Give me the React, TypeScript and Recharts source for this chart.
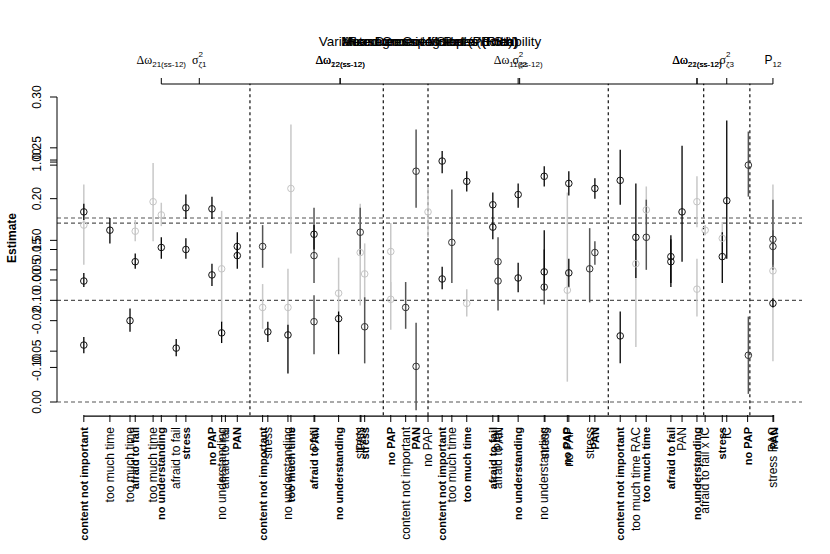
import React from "react"
import {
  ComposedChart, Scatter, ErrorBar, XAxis, YAxis, ReferenceLine,
} from "recharts"

const FONT = "'Liberation Sans', Arial, Helvetica, sans-serif"
const SERIF = "'Liberation Serif', 'DejaVu Serif', serif"

// estimates with interval bounds, split by shade (position on a 0-100 panel scale)
const blackX = [3.6, 3.6, 3.6, 7.1, 9.8, 10.5, 14.0, 16.0, 17.3, 17.3, 20.8, 20.8, 22.1, 24.2, 24.2, 28.3, 31.0, 34.5, 37.8, 51.7, 51.7, 55.0, 58.5, 58.5, 61.9, 61.9, 65.4, 65.4, 68.7, 68.7, 72.2, 75.6, 75.6, 77.7, 82.4, 82.4, 83.9, 89.3, 89.9, 96.1]
const blackEst = [0.187, 0.119, 0.056, 0.169, 0.080, 0.138, 0.152, 0.053, 0.191, 0.150, 0.190, 0.125, 0.068, 0.153, 0.144, 0.069, 0.066, 0.165, 0.082, 0.237, 0.121, 0.217, 0.194, 0.172, 0.204, 0.122, 0.222, 0.128, 0.215, 0.127, 0.210, 0.218, 0.065, 0.162, 0.143, 0.138, 0.187, 0.143, 0.198, 0.097]
const blackLo = [0.179, 0.113, 0.048, 0.156, 0.069, 0.131, 0.141, 0.045, 0.180, 0.141, 0.180, 0.114, 0.058, 0.142, 0.131, 0.059, 0.028, 0.150, 0.047, 0.225, 0.111, 0.207, 0.183, 0.160, 0.191, 0.108, 0.212, 0.110, 0.203, 0.113, 0.200, 0.194, 0.038, 0.122, 0.113, 0.117, 0.138, 0.117, 0.141, 0.093]
const blackHi = [0.195, 0.127, 0.064, 0.181, 0.092, 0.146, 0.162, 0.062, 0.204, 0.161, 0.202, 0.136, 0.079, 0.167, 0.154, 0.079, 0.076, 0.174, 0.089, 0.247, 0.133, 0.227, 0.206, 0.183, 0.215, 0.137, 0.232, 0.169, 0.227, 0.141, 0.220, 0.248, 0.089, 0.215, 0.164, 0.160, 0.252, 0.167, 0.277, 0.102]

const darkX = [27.6, 34.5, 34.5, 40.7, 41.3, 46.8, 48.2, 48.2, 53.0, 59.2, 59.2, 65.4, 71.5, 72.2, 79.1, 92.8, 92.8, 96.1, 96.1]
const darkEst = [0.153, 0.144, 0.079, 0.167, 0.074, 0.093, 0.227, 0.035, 0.157, 0.138, 0.119, 0.113, 0.131, 0.147, 0.162, 0.233, 0.046, 0.160, 0.153]
const darkLo = [0.132, 0.117, 0.047, 0.145, 0.038, 0.072, 0.191, -0.008, 0.117, 0.090, 0.100, 0.096, 0.098, 0.135, 0.130, 0.202, 0.008, 0.135, 0.130]
const darkHi = [0.174, 0.191, 0.105, 0.191, 0.103, 0.118, 0.268, 0.078, 0.209, 0.162, 0.140, 0.150, 0.171, 0.158, 0.199, 0.266, 0.084, 0.199, 0.169]

const lightX = [3.6, 10.5, 12.9, 14.0, 22.1, 27.6, 31.0, 31.4, 37.8, 40.7, 41.3, 44.8, 44.8, 49.8, 55.0, 68.5, 77.7, 79.1, 85.9, 85.9, 87.0, 89.3, 96.1]
const lightEst = [0.174, 0.168, 0.197, 0.184, 0.131, 0.093, 0.093, 0.210, 0.107, 0.147, 0.126, 0.148, 0.101, 0.187, 0.097, 0.110, 0.136, 0.189, 0.197, 0.111, 0.169, 0.161, 0.129]
const lightLo = [0.135, 0.158, 0.158, 0.173, 0.078, 0.072, 0.066, 0.146, 0.078, 0.095, 0.097, 0.101, 0.071, 0.162, 0.084, 0.020, 0.054, 0.174, 0.172, 0.084, 0.164, 0.145, 0.040]
const lightHi = [0.214, 0.179, 0.235, 0.196, 0.188, 0.116, 0.131, 0.273, 0.142, 0.195, 0.156, 0.176, 0.118, 0.211, 0.111, 0.206, 0.150, 0.212, 0.222, 0.141, 0.174, 0.177, 0.214]

// category labels under the panel
const bottomPos = [3.6, 7.1, 9.8, 10.5, 12.9, 14.0, 16.0, 17.3, 20.8, 22.1, 22.6, 24.2, 27.6, 28.3, 31.0, 31.4, 34.5, 34.6, 37.8, 40.7, 40.8, 41.3, 44.8, 46.8, 48.2, 49.8, 51.7, 53.0, 55.0, 58.5, 59.2, 59.3, 61.9, 65.4, 65.5, 68.5, 68.7, 71.5, 72.2, 75.6, 77.7, 79.1, 82.4, 83.9, 85.9, 87.0, 89.3, 89.9, 92.7, 96.1, 96.2]
const bottomLabel = ["content not important", "too much time", "too much time", "afraid to fail", "too much time", "no understanding", "afraid to fail", "stress", "no PAP", "no understanding", "afraid to fail", "PAN", "content not important", "stress", "no understanding", "too much time", "afraid to fail", "PAN", "no understanding", "stress", "PAN", "stress", "no PAP", "content not important", "PAN", "no PAP", "content not important", "too much time", "too much time", "afraid to fail", "afraid to fail", "PAN", "no understanding", "no understanding", "stress", "no PAP", "no PAP", "stress", "PAN", "content not important", "too much time RAC", "too much time", "afraid to fail", "PAN", "no understanding", "afraid to fail x IC", "stress", "IC", "no PAP", "stress RAC", "PAN"]
const bottomBold = [1, 0, 0, 1, 0, 1, 0, 1, 1, 0, 0, 1, 1, 0, 0, 1, 1, 0, 1, 0, 0, 1, 1, 0, 1, 0, 1, 0, 1, 1, 0, 0, 1, 0, 0, 1, 0, 0, 1, 1, 0, 1, 1, 0, 1, 0, 1, 0, 1, 0, 1]

// parameter labels along the top
const topPos = [14.0, 19.1, 38.0, 38.01, 61.9, 62.1, 85.9, 85.91, 89.9, 96.1]
const topMain = ["Δω", "σ", "Δω", "Δω", "Δω", "σ", "Δω", "Δω", "σ", "P"]
const topSub = ["21(ss-12)", "ζ1", "12(ss-12)", "22(ss-12)", "11(ss-12)", "ζ2", "22(ss-12)", "21(ss-12)", "ζ3", "12"]
const topSup = ["", "2", "", "", "", "2", "", "", "2", ""]

const yTicks = [0, 0.034, 0.05, 0.08, 0.10, 0.12, 0.13, 0.15, 0.159, 0.20, 0.233, 0.236, 0.238, 0.25, 0.30]
const yTickLabels = ["0.00", "-0.10", "0.05", "-0.02", "0.10", "0.00", "0.05", "0.15", "0.50", "0.20", "", "", "1.00", "0.25", "0.30"]

const dividers = [25.9, 43.8, 49.8, 74.0, 86.8, 93.0]
const levels = [0.181, 0.176, 0.100, 0.0]

const titles = [
  "Variance Decomposition and Stability",
  "Random Coefficients (Rich)",
  "Mixed Cross-lag Paths (Rich)",
  "Autoregressive Slopes (Rich)",
  "Measurement Model (Pooled)",
]

const rows = (xs: number[], est: number[], lo: number[], hi: number[]) =>
  xs.map((x, i) => ({ x, y: est[i], err: [est[i] - lo[i], hi[i] - est[i]] }))

const ring = (color: string) => (p: any) =>
  <circle cx={p.cx} cy={p.cy} r={3.3} fill="none" stroke={color} strokeWidth={1} />

const BottomTick = (p: any) => {
  const i = bottomPos.indexOf(p.payload.value)
  const bold = bottomBold[i] === 1
  return (
    <g>
      <line x1={p.x} x2={p.x} y1={p.y + 13} y2={p.y + 20} stroke="#000" />
      <text
        transform={`translate(${p.x + 4},${p.y + 25}) rotate(-90)`}
        textAnchor="end"
        fontSize={bold ? 11 : 12}
        fontWeight={bold ? "bold" : "normal"}
        fontFamily={FONT}
        fill="#000"
      >
        {bottomLabel[i]}
      </text>
    </g>
  )
}

const TopTick = (p: any) => {
  const i = topPos.indexOf(p.payload.value)
  const main = topMain[i]
  const isP = main === "P"
  return (
    <g>
      <line x1={p.x} x2={p.x} y1={p.y - 13} y2={p.y - 19} stroke="#000" />
      <text x={p.x} y={p.y - 33} textAnchor="middle" fill="#000" fontFamily={isP ? FONT : SERIF} fontSize={12}>
        <tspan>{main}</tspan>
        <tspan fontSize={8} dy={3} fontFamily={FONT}>{topSub[i]}</tspan>
        {topSup[i] && <tspan fontSize={8} dx={-8} dy={-10} fontFamily={FONT}>{topSup[i]}</tspan>}
      </text>
    </g>
  )
}

const LeftTick = (p: any) => {
  const i = yTicks.indexOf(p.payload.value)
  return (
    <text
      transform={`translate(${p.x},${p.y}) rotate(-90)`}
      textAnchor="middle"
      fontSize={12}
      fontFamily={FONT}
      fill="#000"
    >
      {yTickLabels[i]}
    </text>
  )
}

export default function App() {
  const black = rows(blackX, blackEst, blackLo, blackHi)
  const dark = rows(darkX, darkEst, darkLo, darkHi)
  const light = rows(lightX, lightEst, lightLo, lightHi)

  return (
    <div style={{ position: "absolute", left: 0, top: 0, width: 830, height: 554, background: "#fff", fontFamily: FONT }}>
      {titles.map((t) => (
        <div key={t} style={{ position: "absolute", left: 180, top: 34, width: 500, textAlign: "center", fontSize: 13.5, lineHeight: "16px", color: "#000" }}>
          {t}
        </div>
      ))}
      <div style={{ position: "absolute", left: -38, top: 230, width: 100, height: 16, lineHeight: "16px", textAlign: "center", transform: "rotate(-90deg)", fontWeight: "bold", fontSize: 12 }}>
        Estimate
      </div>
      <ComposedChart width={830} height={554} margin={{ top: 57, right: 28, bottom: 12, left: 12 }}>
        <XAxis
          xAxisId="top"
          orientation="top"
          type="number"
          dataKey="x"
          domain={[0, 100]}
          allowDataOverflow
          ticks={topPos}
          interval={0}
          height={40}
          tickSize={0}
          tickMargin={0}
          axisLine={false}
          tickLine={false}
          tick={<TopTick />}
        />
        <XAxis
          type="number"
          dataKey="x"
          domain={[0, 100]}
          allowDataOverflow
          ticks={bottomPos}
          interval={0}
          height={140}
          tickSize={0}
          tickMargin={0}
          axisLine={false}
          tickLine={false}
          tick={<BottomTick />}
        />
        <YAxis
          type="number"
          domain={[0, 0.3]}
          allowDataOverflow
          ticks={yTicks}
          interval={0}
          width={45}
          tickSize={7}
          tickMargin={9}
          tickLine={{ stroke: "#000" }}
          axisLine={{ stroke: "#000" }}
          tick={<LeftTick />}
        />
        {levels.map((v) => (
          <ReferenceLine key={"h" + v} y={v} stroke="#555" strokeDasharray="4 3" strokeWidth={1.2} />
        ))}
        {dividers.map((v) => (
          <ReferenceLine
            key={"v" + v}
            segment={[{ x: v, y: -0.013 }, { x: v, y: 0.313 }]}
            ifOverflow="visible"
            stroke="#222"
            strokeDasharray="3 3"
            strokeWidth={1.3}
          />
        ))}
        <ReferenceLine
          segment={[{ x: topPos[0], y: 0.3128 }, { x: topPos[topPos.length - 1], y: 0.3128 }]}
          ifOverflow="visible"
          stroke="#000"
          strokeWidth={1.2}
        />
        <ReferenceLine
          segment={[{ x: bottomPos[0], y: -0.0138 }, { x: bottomPos[bottomPos.length - 1], y: -0.0138 }]}
          ifOverflow="visible"
          stroke="#000"
          strokeWidth={1.2}
        />
        <Scatter data={light} dataKey="y" isAnimationActive={false} shape={ring("#c4c4c4")}>
          <ErrorBar dataKey="err" direction="y" width={0} stroke="#c8c8c8" strokeWidth={1.5} />
        </Scatter>
        <Scatter data={dark} dataKey="y" isAnimationActive={false} shape={ring("#333")}>
          <ErrorBar dataKey="err" direction="y" width={0} stroke="#555" strokeWidth={1.5} />
        </Scatter>
        <Scatter data={black} dataKey="y" isAnimationActive={false} shape={ring("#111")}>
          <ErrorBar dataKey="err" direction="y" width={0} stroke="#000" strokeWidth={1.3} />
        </Scatter>
      </ComposedChart>
    </div>
  )
}
